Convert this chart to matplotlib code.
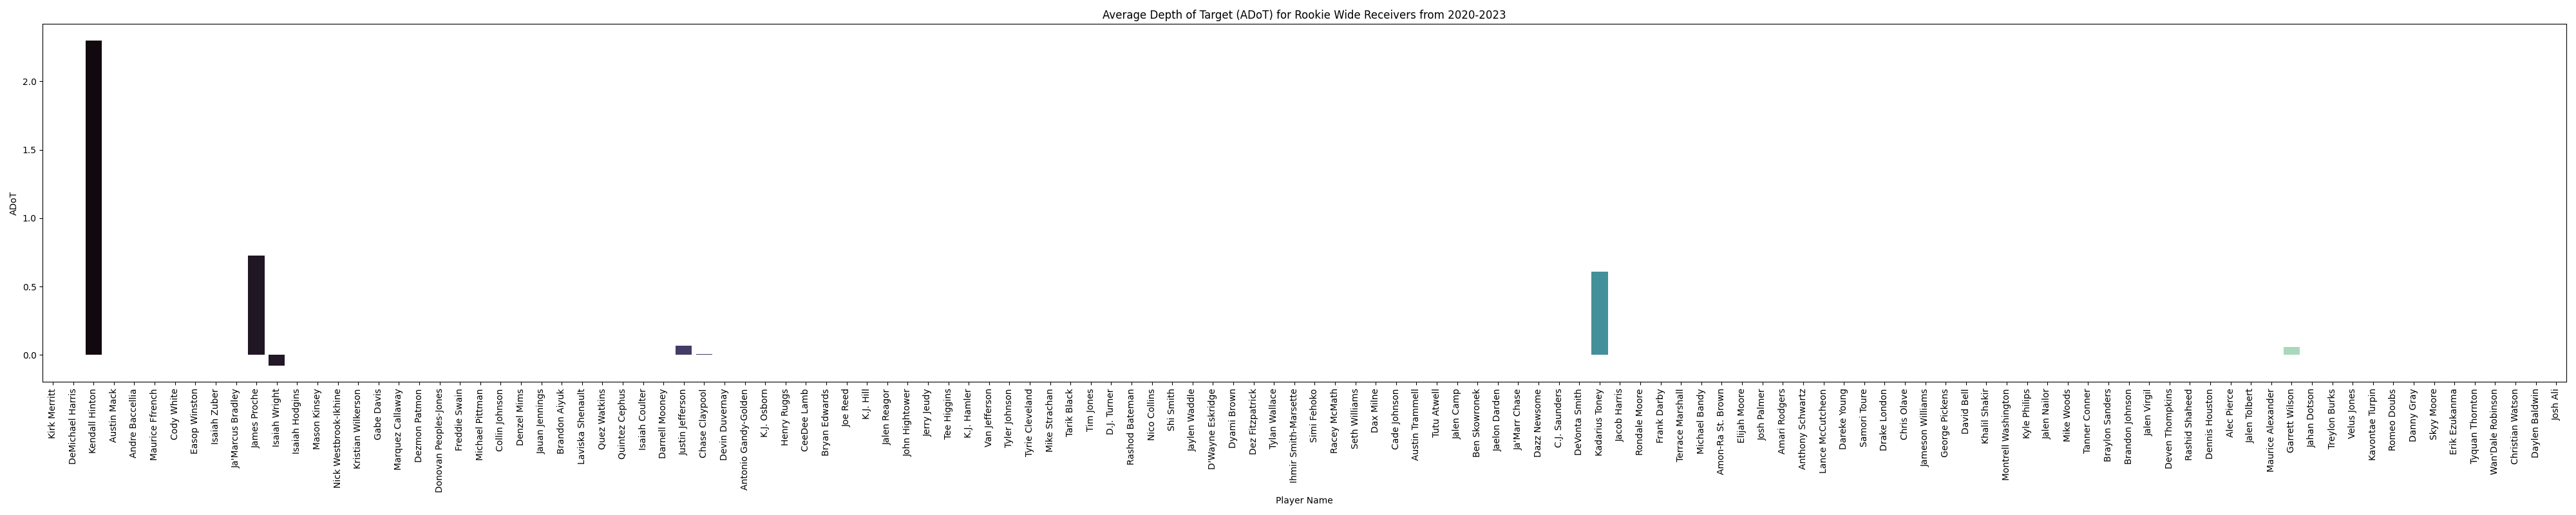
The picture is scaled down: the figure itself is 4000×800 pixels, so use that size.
import matplotlib
matplotlib.use("Agg")
import matplotlib.pyplot as plt
import seaborn as sns
import pandas as pd

players = [
    "Kirk Merritt", "DeMichael Harris", "Kendall Hinton", "Austin Mack", "Andre Baccellia",
    "Maurice Ffrench", "Cody White", "Easop Winston", "Isaiah Zuber", "Ja'Marcus Bradley",
    "James Proche", "Isaiah Wright", "Isaiah Hodgins", "Mason Kinsey", "Nick Westbrook-Ikhine",
    "Kristian Wilkerson", "Gabe Davis", "Marquez Callaway", "Dezmon Patmon", "Donovan Peoples-Jones",
    "Freddie Swain", "Michael Pittman", "Collin Johnson", "Denzel Mims", "Jauan Jennings",
    "Brandon Aiyuk", "Laviska Shenault", "Quez Watkins", "Quintez Cephus", "Isaiah Coulter",
    "Darnell Mooney", "Justin Jefferson", "Chase Claypool", "Devin Duvernay", "Antonio Gandy-Golden",
    "K.J. Osborn", "Henry Ruggs", "CeeDee Lamb", "Bryan Edwards", "Joe Reed",
    "K.J. Hill", "Jalen Reagor", "John Hightower", "Jerry Jeudy", "Tee Higgins",
    "K.J. Hamler", "Van Jefferson", "Tyler Johnson", "Tyrie Cleveland", "Mike Strachan",
    "Tarik Black", "Tim Jones", "D.J. Turner", "Rashod Bateman", "Nico Collins",
    "Shi Smith", "Jaylen Waddle", "D'Wayne Eskridge", "Dyami Brown", "Dez Fitzpatrick",
    "Tylan Wallace", "Ihmir Smith-Marsette", "Simi Fehoko", "Racey McMath", "Seth Williams",
    "Dax Milne", "Cade Johnson", "Austin Trammell", "Tutu Atwell", "Jalen Camp",
    "Ben Skowronek", "Jaelon Darden", "Ja'Marr Chase", "Dazz Newsome", "C.J. Saunders",
    "DeVonta Smith", "Kadarius Toney", "Jacob Harris", "Rondale Moore", "Frank Darby",
    "Terrace Marshall", "Michael Bandy", "Amon-Ra St. Brown", "Elijah Moore", "Josh Palmer",
    "Amari Rodgers", "Anthony Schwartz", "Lance McCutcheon", "Dareke Young", "Samori Toure",
    "Drake London", "Chris Olave", "Jameson Williams", "George Pickens", "David Bell",
    "Khalil Shakir", "Montrell Washington", "Kyle Philips", "Jalen Nailor", "Mike Woods",
    "Tanner Conner", "Braylon Sanders", "Brandon Johnson", "Jalen Virgil", "Deven Thompkins",
    "Rashid Shaheed", "Dennis Houston", "Alec Pierce", "Jalen Tolbert", "Maurice Alexander",
    "Garrett Wilson", "Jahan Dotson", "Treylon Burks", "Velus Jones", "Kavontae Turpin",
    "Romeo Doubs", "Danny Gray", "Skyy Moore", "Erik Ezukanma", "Tyquan Thornton",
    "Wan'Dale Robinson", "Christian Watson", "Daylen Baldwin", "Josh Ali",
]

nonzero_adot = {
    "Kendall Hinton": 2.30,
    "James Proche": 0.726,
    "Isaiah Wright": -0.079,
    "Justin Jefferson": 0.069,
    "Chase Claypool": 0.005,
    "Kadarius Toney": 0.61,
    "Garrett Wilson": 0.06,
}
adot = [nonzero_adot.get(p, 0.0) for p in players]

df = pd.DataFrame({"Player Name": players, "ADoT": adot})

fig, ax = plt.subplots(figsize=(40, 8), dpi=100)
sns.barplot(data=df, x="Player Name", y="ADoT", hue="Player Name",
            palette="mako", legend=False, ax=ax)
ax.set_title("Average Depth of Target (ADoT) for Rookie Wide Receivers from 2020-2023")
ax.set_xlabel("Player Name")
ax.set_ylabel("ADoT")
plt.setp(ax.get_xticklabels(), rotation=90)
plt.tight_layout()
fig.savefig("out.png", dpi=100)
